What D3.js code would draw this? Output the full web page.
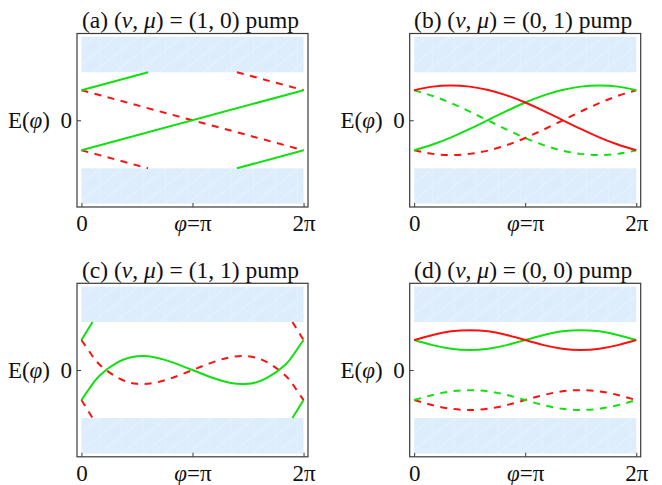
<!DOCTYPE html>
<html>
<head>
<meta charset="utf-8">
<script src="https://cdn.jsdelivr.net/npm/d3@7"></script>
<style>
  body { margin: 0; background: #fff; }
  svg { display: block; }
  text { font-family: "Liberation Serif", "Times New Roman", serif; fill: #111; }
</style>
</head>
<body>
<svg id="chart" width="662" height="485"></svg>
<script>
// ---- data (phi in units of pi, E in units of the edge-state energy) ----
const titles = [
  "(a) (ν, μ) = (1, 0) pump",
  "(b) (ν, μ) = (0, 1) pump",
  "(c) (ν, μ) = (1, 1) pump",
  "(d) (ν, μ) = (0, 0) pump"
];
const phiTicks = [0, 1, 2];
const phiTickLabels = ["0", "φ=π", "2π"];
const eTicks = [0];
const eTickLabels = ["0"];
const eLabel = "E(φ)";

// bulk bands (shaded)
const gapEdge = 1.6;
const bandOuter = 2.78;

const phiGrid = [0, 1/6, 2/6, 3/6, 4/6, 5/6, 1, 7/6, 8/6, 9/6, 10/6, 11/6, 2];

// (a) straight edge-state branches, [phi, E] pairs
const aGreenLong   = [[0, -1], [2, 1]];
const aGreenStart  = [[0, 1], [0.6, 1.6]];
const aGreenEnd    = [[1.4, -1.6], [2, -1]];
const aRedLong     = [[0, 1], [2, -1]];
const aRedStart    = [[0, -1], [0.6, -1.6]];
const aRedEnd      = [[1.4, 1.6], [2, 1]];

// (b) values on phiGrid
const bRedSolid    = [1.00, 1.12, 1.16, 1.12, 1.01, 0.83, 0.59, 0.31, 0.01, -0.29, -0.57, -0.81, -1.00];
const bGreenSolid  = [-1.00, -0.81, -0.57, -0.29, 0.01, 0.31, 0.59, 0.83, 1.01, 1.12, 1.16, 1.12, 1.00];
const bRedDashed   = [-1.00, -1.12, -1.16, -1.12, -1.01, -0.83, -0.59, -0.31, -0.01, 0.29, 0.57, 0.81, 1.00];
const bGreenDashed = [1.00, 0.81, 0.57, 0.29, -0.01, -0.31, -0.59, -0.83, -1.01, -1.12, -1.16, -1.12, -1.00];

// (c)
const cPhi      = [0, 1/12, 1/6, 2/6, 3/6, 4/6, 5/6, 1, 7/6, 8/6, 9/6, 10/6, 11/6, 23/12, 2];
const cGreen    = [-1.00, -0.55, -0.17, 0.27, 0.46, 0.42, 0.24, 0, -0.24, -0.42, -0.46, -0.27, 0.17, 0.55, 1.00];
const cRed      = [1.00, 0.55, 0.17, -0.27, -0.46, -0.42, -0.24, 0, 0.24, 0.42, 0.46, 0.27, -0.17, -0.55, -1.00];
const cGreenStart = [[0, 1], [0.1, 1.6]];
const cRedStart   = [[0, -1], [0.1, -1.6]];
const cGreenEnd   = [[1.9, -1.6], [2, -1]];
const cRedEnd     = [[1.9, 1.6], [2, 1]];

// (d) values on phiGrid
const dRedSolid    = [1.00, 1.17, 1.29, 1.33, 1.29, 1.17, 1.00, 0.83, 0.71, 0.67, 0.71, 0.83, 1.00];
const dGreenSolid  = [1.00, 0.83, 0.71, 0.67, 0.71, 0.83, 1.00, 1.17, 1.29, 1.33, 1.29, 1.17, 1.00];
const dRedDashed   = [-1.00, -1.17, -1.29, -1.33, -1.29, -1.17, -1.00, -0.83, -0.71, -0.67, -0.71, -0.83, -1.00];
const dGreenDashed = [-1.00, -0.83, -0.71, -0.67, -0.71, -0.83, -1.00, -1.17, -1.29, -1.33, -1.29, -1.17, -1.00];

// ---- layout ----
const RED = "#ff1010", GREEN = "#10e010";
const zip = (xs, ys) => xs.map((x, i) => [x, ys[i]]);

const panels = [
  { title: titles[0], x: 77, y: 33.5, curves: [
      { c: RED, dash: true, pts: aRedLong }, { c: RED, dash: true, pts: aRedStart }, { c: RED, dash: true, pts: aRedEnd },
      { c: GREEN, pts: aGreenLong }, { c: GREEN, pts: aGreenStart }, { c: GREEN, pts: aGreenEnd } ] },
  { title: titles[1], x: 409.7, y: 33.5, curves: [
      { c: GREEN, dash: true, pts: zip(phiGrid, bGreenDashed) }, { c: RED, dash: true, pts: zip(phiGrid, bRedDashed) },
      { c: GREEN, pts: zip(phiGrid, bGreenSolid) }, { c: RED, pts: zip(phiGrid, bRedSolid) } ] },
  { title: titles[2], x: 77, y: 283.3, curves: [
      { c: RED, dash: true, pts: zip(cPhi, cRed) }, { c: RED, dash: true, pts: cRedStart }, { c: RED, dash: true, pts: cRedEnd },
      { c: GREEN, pts: zip(cPhi, cGreen) }, { c: GREEN, pts: cGreenStart }, { c: GREEN, pts: cGreenEnd } ] },
  { title: titles[3], x: 409.7, y: 283.3, curves: [
      { c: RED, dash: true, pts: zip(phiGrid, dRedDashed) }, { c: GREEN, dash: true, pts: zip(phiGrid, dGreenDashed) },
      { c: GREEN, pts: zip(phiGrid, dGreenSolid) }, { c: RED, pts: zip(phiGrid, dRedSolid) } ] }
];

const fw = 231, fh = 173.5;

const svg = d3.select("#chart");

// faint mesh lines inside the shaded bands
const defs = svg.append("defs");
const pat = defs.append("pattern").attr("id", "mesh")
  .attr("patternUnits", "userSpaceOnUse").attr("width", 22).attr("height", 17);
pat.append("rect").attr("width", 22).attr("height", 17).attr("fill", "#deedfc");
pat.append("path").attr("d", "M0,0V17M0,17L22,0")
  .attr("stroke", "#fff").attr("stroke-width", 0.6).attr("opacity", 0.55).attr("fill", "none");

// italic greek letters inside a label
function richText(sel, str) {
  sel.text(null);
  const runs = str.match(/[φνμ]|[^φνμ]+/g);
  runs.forEach(r => {
    const t = sel.append("tspan").text(r);
    if ("φνμ".includes(r)) t.attr("font-style", "italic");
  });
}

panels.forEach(p => {
  const g = svg.append("g").attr("transform", `translate(${p.x},${p.y})`);

  const xScale = d3.scaleLinear().domain([-0.04, 2.04]).range([0, fw]);
  const yScale = d3.scaleLinear().domain([-2.89, 2.89]).range([fh, 0]);

  // bands
  [[gapEdge, bandOuter], [-bandOuter, -gapEdge]].forEach(b => {
    g.append("rect")
      .attr("x", xScale(0)).attr("width", xScale(2) - xScale(0))
      .attr("y", yScale(b[1])).attr("height", yScale(b[0]) - yScale(b[1]))
      .attr("fill", "url(#mesh)");
  });

  const line = d3.line()
    .x(d => xScale(d[0]))
    .y(d => yScale(d[1]))
    .curve(d3.curveNatural);

  p.curves.forEach(c => {
    g.append("path")
      .datum(c.pts)
      .attr("fill", "none")
      .attr("stroke", c.c)
      .attr("stroke-width", 2)
      .attr("stroke-dasharray", c.dash ? "7,6.5" : null)
      .attr("d", line);
  });

  // frame
  g.append("rect").attr("width", fw).attr("height", fh)
    .attr("fill", "none").attr("stroke", "#3a3a3a").attr("stroke-width", 1.2);

  // axes with inward ticks
  const xAxis = d3.axisBottom(xScale).tickValues(phiTicks).tickSize(-4).tickPadding(8)
    .tickFormat((d, i) => phiTickLabels[i]);
  const gx = g.append("g").attr("transform", `translate(0,${fh})`).call(xAxis);
  gx.select(".domain").remove();
  gx.selectAll("line").attr("stroke", "#3a3a3a");
  gx.selectAll("text").attr("font-size", 23).attr("fill", "#111")
    .attr("font-family", "Liberation Serif")
    .each(function(d, i) { richText(d3.select(this), phiTickLabels[i]); });

  const yAxis = d3.axisLeft(yScale).tickValues(eTicks).tickSize(-4).tickPadding(5)
    .tickFormat((d, i) => eTickLabels[i]);
  const gy = g.append("g").call(yAxis);
  gy.select(".domain").remove();
  gy.selectAll("line").attr("stroke", "#3a3a3a");
  gy.selectAll("text").attr("font-size", 23).attr("fill", "#111")
    .attr("font-family", "Liberation Serif");

  g.append("text")
    .attr("x", -27).attr("y", yScale(0)).attr("dy", "0.34em")
    .attr("text-anchor", "end").attr("font-size", 23)
    .call(richText, eLabel);

  g.append("text")
    .attr("x", xScale(1) - 2).attr("y", -5.5)
    .attr("text-anchor", "middle").attr("font-size", 23.5)
    .call(richText, p.title);
});
</script>
</body>
</html>
